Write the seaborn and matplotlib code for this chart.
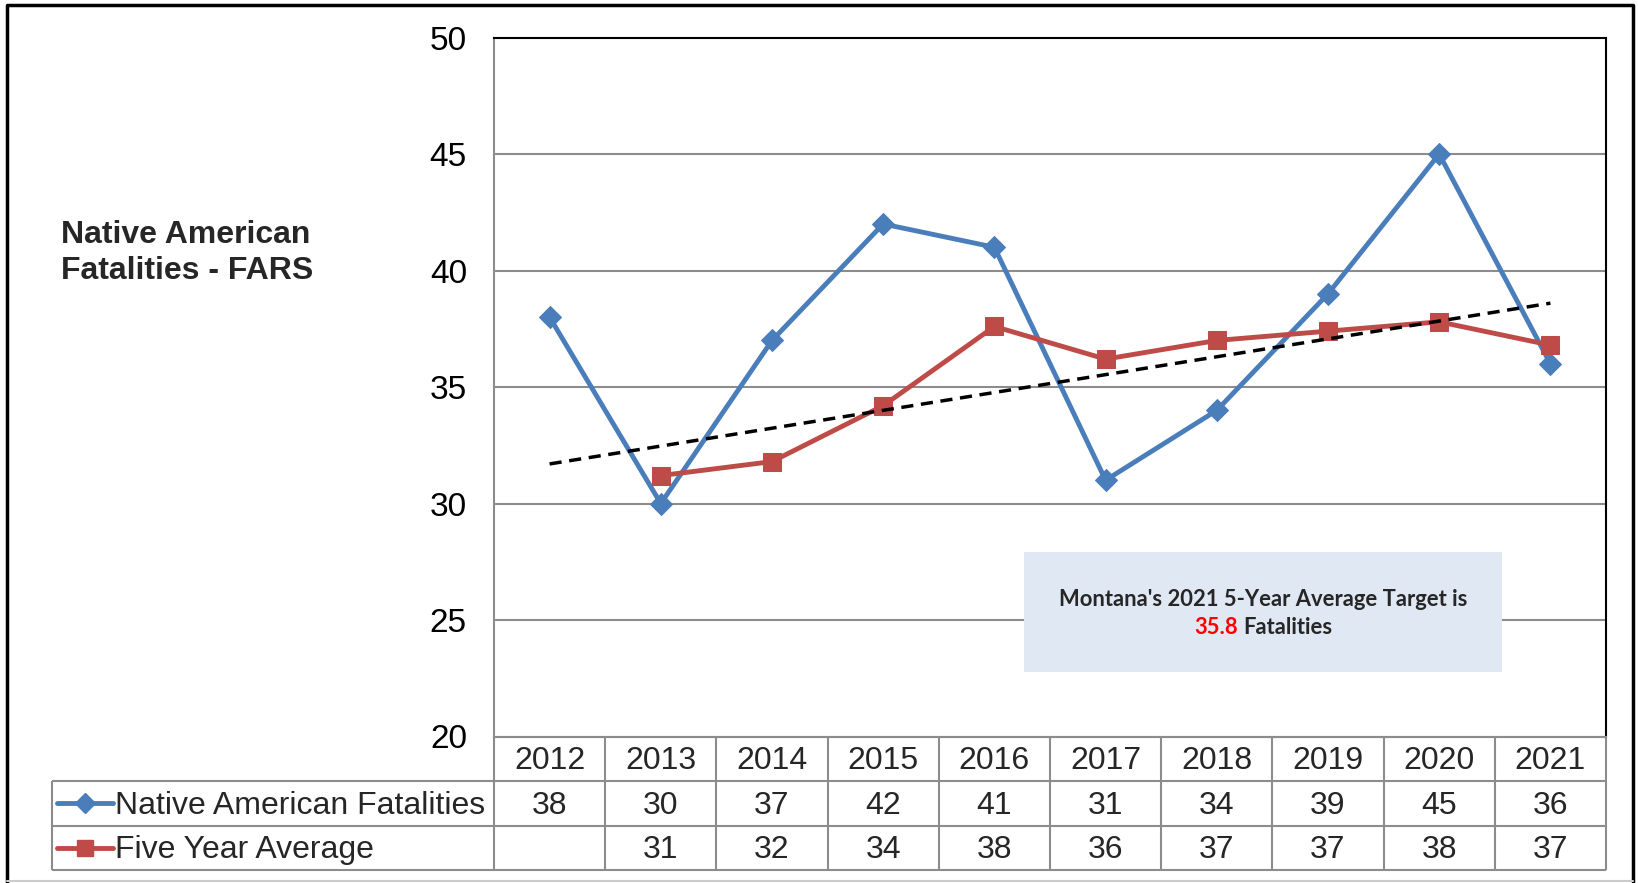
import numpy as np
import pandas as pd
import matplotlib.pyplot as plt
import seaborn as sns
from matplotlib.patches import Rectangle
from matplotlib.lines import Line2D

# Data
years = [2012, 2013, 2014, 2015, 2016, 2017, 2018, 2019, 2020, 2021]
fatalities = [38, 30, 37, 42, 41, 31, 34, 39, 45, 36]
five_year_avg = [np.nan, 31.2, 31.8, 34.2, 37.6, 36.2, 37.0, 37.4, 37.8, 36.8]
five_year_table = ["", "31", "32", "34", "38", "36", "37", "37", "38", "37"]
trend_years = [2012, 2021]
trend_values = [31.7, 38.6]
series_names = ["Native American Fatalities", "Five Year Average"]
y_ticks = [20, 25, 30, 35, 40, 45, 50]
title = "Native American\nFatalities - FARS"
target_value = "35.8"

sns.set_theme(style="white")
plt.rcParams['font.family'] = ['Liberation Sans', 'DejaVu Sans']

BLUE = "#4A7EBB"
RED = "#BE4B48"
GRID = "#8C8C8C"
BOX_FONT = ["Lato", "DejaVu Sans"]

W, H = 1638, 883
fig = plt.figure(figsize=(W / 100, H / 100), dpi=100)


def fbox(x0, y0, x1, y1):
    # pixel box (top-left origin) -> figure fraction rect
    return [x0 / W, 1 - y1 / H, (x1 - x0) / W, (y1 - y0) / H]


px_left, px_right, px_top, px_bottom = 494, 1606, 37.6, 736.5
ax = fig.add_axes(fbox(px_left, px_top, px_right, px_bottom))

df = pd.DataFrame({"year": years, "fat": fatalities, "avg": five_year_avg})
sns.lineplot(data=df, x="year", y="fat", ax=ax, color=BLUE, lw=3.5,
             marker="D", markersize=11, markeredgecolor=BLUE, zorder=4)
sns.lineplot(data=df.dropna(), x="year", y="avg", ax=ax, color=RED, lw=3.5,
             marker="s", markersize=13, markeredgecolor=RED, zorder=5)
sns.lineplot(x=trend_years, y=trend_values, ax=ax, color="black", lw=2.5,
             linestyle=(0, (3.5, 2.2)), zorder=6)

ax.set_xlim(2011.5, 2021.5)
ax.set_ylim(20, 50)
ax.set_yticks(y_ticks)
ax.set_xticks([])
ax.set_xlabel("")
ax.set_ylabel("")
for y in y_ticks[1:-1]:
    ax.axhline(y, color=GRID, lw=1.5, zorder=1)
ax.tick_params(axis="y", labelsize=24, pad=19.5, length=0, colors="black")
for s in ["top", "right"]:
    ax.spines[s].set_color("black")
    ax.spines[s].set_linewidth(1.5)
for s in ["left", "bottom"]:
    ax.spines[s].set_color(GRID)
    ax.spines[s].set_linewidth(1.5)

# annotation box
bx0, by0, bx1, by1 = 1024, 552, 1502, 672
fig.patches.append(Rectangle((bx0 / W, 1 - by1 / H), (bx1 - bx0) / W,
                             (by1 - by0) / H, transform=fig.transFigure,
                             facecolor="#E0E8F3", edgecolor="none", zorder=3))
fig.text(1263 / W, 1 - 599 / H, "Montana's 2021 5-Year Average Target is",
         ha="center", va="center", fontsize=15.8, fontweight="bold",
         family=BOX_FONT, zorder=7)
fig.text(1238 / W, 1 - 628 / H, target_value, ha="right", va="center",
         fontsize=15.8, fontweight="bold", color="#FF0000",
         family=BOX_FONT, zorder=7)
fig.text(1243 / W, 1 - 628 / H, "Fatalities", ha="left", va="center",
         fontsize=15.8, fontweight="bold", family=BOX_FONT, zorder=7)

# title on the left
fig.text(61 / W, 1 - 253 / H, title, ha="left", va="center", fontsize=23,
         fontweight="bold", linespacing=1.27)

# data table under the chart
tb_left, tb_bottom = 52, 870
col_w = (px_right - px_left) / 10
tax = fig.add_axes(fbox(tb_left, px_bottom, px_right, tb_bottom))
x_first = 2011.5 - (px_left - tb_left) / col_w
tax.set_xlim(x_first, 2021.5)
tax.set_ylim(3, 0)
tax.axis("off")
tkw = dict(color=GRID, lw=1.5, clip_on=False)
tax.hlines(0, 2011.5, 2021.5, **tkw)
for r in [1, 2, 3]:
    tax.hlines(r, x_first, 2021.5, **tkw)
for k in range(11):
    tax.vlines(2011.5 + k, 0, 3, **tkw)
tax.vlines(x_first, 1, 3, **tkw)

FS = 23
ty = 0.56  # text centre inside each row
for i, yr in enumerate(years):
    tax.text(yr, ty, str(yr), ha="center", va="center", fontsize=FS)
    tax.text(yr, 1 + ty, str(fatalities[i]), ha="center", va="center", fontsize=FS)
    tax.text(yr, 2 + ty, five_year_table[i], ha="center", va="center", fontsize=FS)

leg_x0 = x_first + 5 / col_w
leg_x1 = x_first + 61 / col_w
for row, col, mk, ms in [(1.5, BLUE, "D", 10), (2.5, RED, "s", 12)]:
    tax.add_line(Line2D([leg_x0, leg_x1], [row, row], color=col, lw=3.5,
                        clip_on=False))
    tax.plot((leg_x0 + leg_x1) / 2, row, marker=mk, markersize=ms, color=col,
             clip_on=False)
tax.text(x_first + 63 / col_w, 1 + ty, series_names[0], ha="left", va="center",
         fontsize=FS)
tax.text(x_first + 63 / col_w, 2 + ty, series_names[1], ha="left", va="center",
         fontsize=FS)

# outer frame
fig.add_artist(Line2D([7 / W, 7 / W, 1633 / W, 1633 / W],
                      [0, 1 - 5 / H, 1 - 5 / H, 0],
                      transform=fig.transFigure, color="black", lw=2.5))
fig.add_artist(Line2D([7 / W, 1633 / W], [1 - 881 / H, 1 - 881 / H],
                      transform=fig.transFigure, color="#CCCCCC", lw=1.5))

plt.savefig("out.png", dpi=100)
